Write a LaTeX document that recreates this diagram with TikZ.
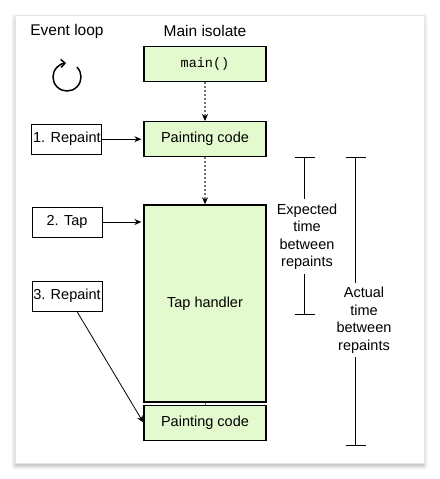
\documentclass[tikz,border=0pt]{standalone}
\usepackage{fontspec}
\setmainfont{Liberation Sans}
\setmonofont{Liberation Mono}
\usetikzlibrary{positioning, arrows.meta, shadows.blur}

\definecolor{codegreen}{HTML}{E3F9CE}

\begin{document}
\begin{tikzpicture}[x=1pt, y=1pt, node distance=40pt,
	font=\fontsize{14.5}{17.5}\selectfont,
	b/.style={draw, line width=1.2pt, fill=codegreen, minimum width=122pt, minimum height=35pt, inner sep=0pt},
	e/.style={draw, line width=1pt, fill=white, minimum width=70pt, minimum height=30pt, inner sep=0pt},
	d/.style={draw=black!55, line width=1.2pt, dash pattern=on 2pt off 2pt, -{Stealth[length=7pt, width=6pt, color=black]}},
	a/.style={line width=1pt, -{Stealth[length=7pt, width=6pt]}, shorten >=2pt},
	t/.style={align=center, inner sep=4pt},
	bar/.style={line width=1pt}]
		\useasboundingbox (0,0) rectangle (439,-479);
		\draw[black!10, fill=white, blur shadow={shadow xshift=0pt, shadow yshift=-3pt, shadow blur radius=4pt, shadow opacity=30}] (15,-15) rectangle (424,-463);

		% titles
		\node[font=\fontsize{15.5}{18}\selectfont] (loop_title) at (67,-31) {Event loop};
		\node[font=\fontsize{15.5}{18}\selectfont] (main_title) at (205,-31) {Main isolate};
		\draw[line width=1.5pt, -{Straight Barb[length=4pt, width=8pt]}] ([shift={(45:14)}]67,-77) arc[start angle=45, end angle=-266, radius=14];

		% main isolate
		\node[b] (main) at (205,-64) {\ttfamily\fontsize{13.5}{15}\selectfont main()};
		\node[b, below=39pt of main] (paint1) {Painting code};
		\node[b, below=47pt of paint1, minimum height=197pt] (tap) {Tap handler};
		\node[b, below=2pt of tap] (paint2) {Painting code};

		% event loop
		\node[e, left=41pt of paint1] (repaint1) {1. Repaint};
		\node[e] (tap_event) at (67,-222) {2. Tap};
		\node[e] (repaint2) at (67,-296) {3. Repaint};

		\path[d] (main) edge (paint1);
		\path[d] (paint1) edge (tap);
		\draw[draw=black!55, line width=1pt] (tap) -- (paint2);
		\draw[a] (repaint1) -- (paint1);
		\draw[a] (tap_event) -- (tap_event -| tap.west);
		\draw[a, line width=0.8pt, shorten >=0pt] ([xshift=10pt]repaint2.south) -- (paint2.west);

		% times
		\node[t] (expected) at (307,-236.5) {Expected\\time\\between\\repaints};
		\node[t] (actual) at (364,-320) {Actual\\time\\between\\repaints};
		\coordinate (exp_top) at (304.5,-157);
		\coordinate (exp_bot) at (304.5,-314);
		\coordinate (act_top) at (355.5,-157);
		\coordinate (act_bot) at (355.5,-445);
		\draw[bar] (exp_top) -- (exp_top |- expected.north);
		\draw[bar] (exp_bot) -- (exp_bot |- expected.south);
		\draw[bar] (act_top) -- (act_top |- actual.north);
		\draw[bar] (act_bot) -- (act_bot |- actual.south);
		\foreach \p in {exp_top, exp_bot, act_top, act_bot}
			\draw[bar] ([xshift=-10pt]\p) -- ([xshift=10pt]\p);
	\end{tikzpicture}
\end{document}
